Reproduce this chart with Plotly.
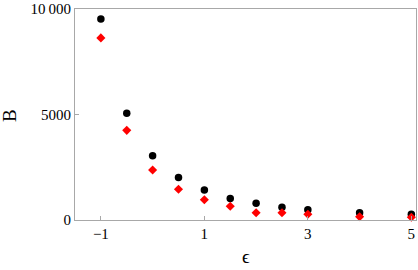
import plotly.graph_objects as go

eps = [-1, -0.5, 0, 0.5, 1, 1.5, 2, 2.5, 3, 4, 5]
b_black = [9530, 5060, 3050, 2010, 1420, 1020, 790, 600, 485, 345, 270]
b_red = [8630, 4250, 2370, 1460, 960, 650, 345, 345, 270, 155, 127]

x_ticks = [-1, 1, 3, 5]
x_ticklabels = ["\u22121", "1", "3", "5"]
y_ticks = [0, 5000, 10000]
y_ticklabels = ["0", "5000", "10\u2009000"]

fig = go.Figure()
fig.add_trace(go.Scatter(x=eps, y=b_black, mode="markers",
                         marker=dict(symbol="circle", size=7.5, color="black"),
                         cliponaxis=False))
fig.add_trace(go.Scatter(x=eps, y=b_red, mode="markers",
                         marker=dict(symbol="diamond", size=7, color="red"),
                         cliponaxis=False))

font = "Liberation Serif, Times New Roman, serif"
axcommon = dict(showgrid=False, zeroline=False, showline=True, mirror=True,
                linecolor="#a8a8a8", linewidth=1, ticks="inside", ticklen=4,
                tickcolor="#a8a8a8", tickwidth=1, automargin=False,
                tickfont=dict(family=font, size=15, color="black"))
L, R, T, B = 75, 2, 9, 50
pw, ph = 418 - L - R, 270 - T - B


def px(x, y):
    return (x - L) / pw, 1 - (y - T) / ph


ex, ey = px(246, 256)
bx, by = px(9, 116)
fig.update_layout(
    width=418, height=270,
    margin=dict(l=L, r=R, t=T, b=B, autoexpand=False),
    paper_bgcolor="white", plot_bgcolor="white",
    showlegend=False,
    xaxis=dict(range=[-1.5, 5.09], tickvals=x_ticks, ticktext=x_ticklabels, **axcommon),
    yaxis=dict(range=[0, 10000], tickvals=y_ticks, ticktext=y_ticklabels, **axcommon),
    annotations=[
        dict(text="\u03f5", x=ex, y=ey, xref="paper", yref="paper",
             xanchor="center", yanchor="middle",
             showarrow=False, font=dict(family=font, size=19, color="black")),
        dict(text="B", x=bx, y=by, xref="paper", yref="paper",
             xanchor="center", yanchor="middle",
             showarrow=False, textangle=-90, font=dict(family=font, size=19, color="black")),
    ],
)
fig.write_html("out.html", config={"displayModeBar": False},
               post_script="document.body.style.margin='0';document.body.style.overflow='hidden';")
